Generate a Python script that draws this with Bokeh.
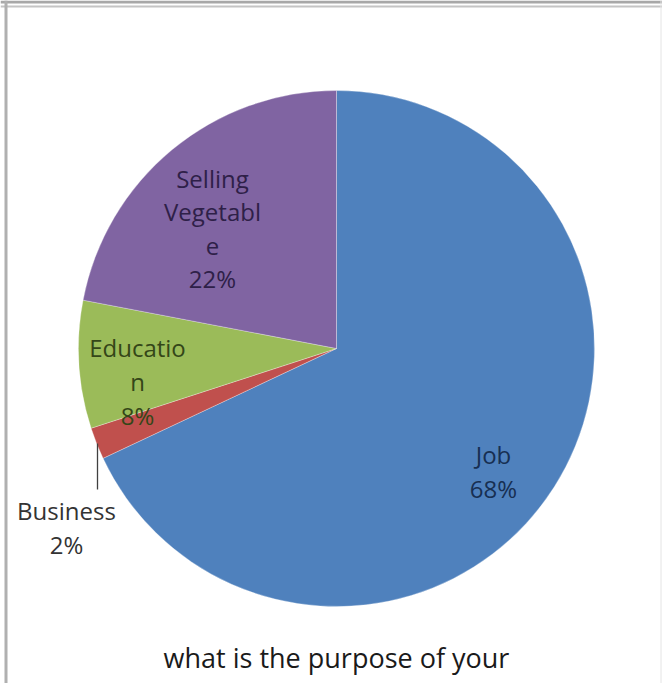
from bokeh.plotting import figure
from bokeh.models import Range1d, Span
from bokeh.core.properties import value
from bokeh.embed import file_html
from bokeh.resources import INLINE
import math

# ---- data ----
categories = ["Job", "Business", "Education", "Selling Vegetable"]
shares = [68, 2, 8, 22]
label_lines = ["Job\n68%", "Business\n2%", "Educatio\nn\n8%", "Selling\nVegetabl\ne\n22%"]
title_text = "what is the purpose of your"

# ---- style / layout ----
W, H = 662, 683
colors = ["#4F81BD", "#C0504D", "#9BBB59", "#8064A2"]
label_colors = ["#172F52", "#333333", "#344618", "#2E2048"]
cx, cy_px, R = 336, 348, 258
label_pos_px = [(493, 471), (66, 527), (137, 381), (212, 228)]
FONT = value("Open Sans")

p = figure(width=W, height=H, output_backend="svg", toolbar_location=None,
           x_range=Range1d(0, W), y_range=Range1d(0, H),
           min_border=0, min_border_left=0, min_border_right=0,
           min_border_top=0, min_border_bottom=0)
p.axis.visible = False
p.grid.visible = False
p.outline_line_color = None
p.background_fill_color = "white"
p.border_fill_color = "white"

def Y(py):
    return H - py

# wedges: start at 12 o'clock, go clockwise
total = float(sum(shares))
starts, ends = [], []
ang = math.pi / 2
for s in shares:
    starts.append(ang)
    ang -= 2 * math.pi * s / total
    ends.append(ang)

p.wedge(x=[cx] * len(shares), y=[Y(cy_px)] * len(shares), radius=R,
        radius_units="screen", start_angle=starts, end_angle=ends,
        direction="clock", fill_color=colors, line_color="white",
        line_width=0.6, line_alpha=0.5)

# leader line for Business
p.line(x=[97, 97], y=[Y(443), Y(489)], line_color="#404040", line_width=1.3)

# labels
p.text(x=[q[0] for q in label_pos_px], y=[Y(q[1]) for q in label_pos_px],
       text=label_lines, text_align="center", text_baseline="middle",
       text_font=FONT, text_font_size="24px", text_line_height=1.02,
       text_color=label_colors)

# title (bottom)
p.text(x=[cx], y=[Y(657)], text=[title_text], text_align="center",
       text_baseline="middle", text_font=FONT, text_font_size="27px",
       text_color="#1a1a1a")

# frame lines
p.add_layout(Span(location=Y(1.5), dimension="width", line_color="#a8a8a8", line_width=3))
p.add_layout(Span(location=Y(6), dimension="width", line_color="#c4c4c4", line_width=2))
p.add_layout(Span(location=5.5, dimension="height", line_color="#b0b0b0", line_width=3))
p.add_layout(Span(location=660.5, dimension="height", line_color="#e4e4e4", line_width=1))

open("out.html", "w").write(file_html(p, INLINE))
